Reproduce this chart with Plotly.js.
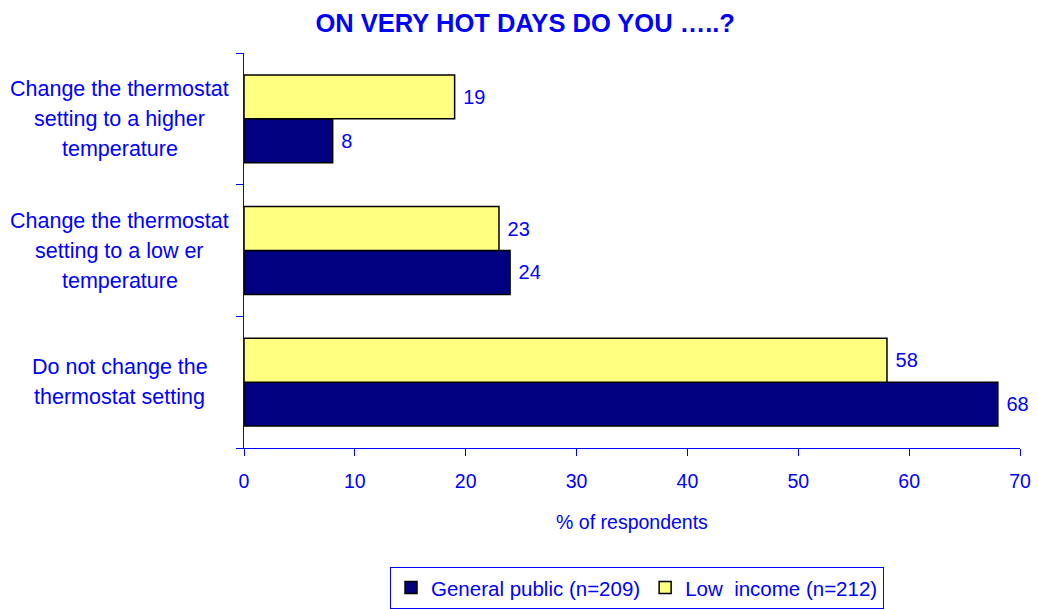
<!DOCTYPE html>
<html>
<head>
<meta charset="utf-8">
<script src="https://cdn.plot.ly/plotly-3.0.1.min.js"></script>
<style>html,body{margin:0;padding:0;background:#fff;}#chart{width:1038px;height:609px;}</style>
</head>
<body>
<div id="chart"></div>
<script>
// Categories listed bottom-to-top
const categories = [
  "Do not change the<br>thermostat setting",
  "Change the thermostat<br>setting to a low er<br>temperature",
  "Change the thermostat<br>setting to a higher<br>temperature"
];
const generalPublic = [68, 24, 8];
const lowIncome = [58, 23, 19];
const seriesNames = ["General public (n=209)", "Low\u00A0\u00A0income (n=212)"];
const xTicks = [0, 10, 20, 30, 40, 50, 60, 70];

const BLUE = "#0000FF";
const FONT = "'Liberation Sans', Arial, sans-serif";

const traces = [
  {
    type: "bar", orientation: "h", name: seriesNames[0],
    y: categories, x: generalPublic,
    marker: {color: "#000080", line: {color: "#000000", width: 1.5}},
    texttemplate: "\u00A0%{x}",
    textposition: "outside", cliponaxis: false,
    textfont: {color: BLUE, size: 20, family: FONT},
    hoverinfo: "x+name"
  },
  {
    type: "bar", orientation: "h", name: seriesNames[1],
    y: categories, x: lowIncome,
    marker: {color: "#FFFF80", line: {color: "#000000", width: 1.5}},
    texttemplate: "\u00A0%{x}",
    textposition: "outside", cliponaxis: false,
    textfont: {color: BLUE, size: 20, family: FONT},
    hoverinfo: "x+name"
  }
];

// Category labels: one annotation per text line, centred, to match the line spacing
const LINE_GAP = 30;
const annotations = [];
categories.forEach(c => {
  const lines = c.split("<br>");
  const n = lines.length;
  lines.forEach((ln, i) => {
    annotations.push({
      xref: "paper", yref: "y", x: -0.16, y: c, text: ln,
      yshift: ((n - 1) / 2 - i) * LINE_GAP,
      showarrow: false, xanchor: "center", yanchor: "middle", align: "center",
      font: {color: BLUE, size: 21.5, family: FONT}
    });
  });
});

const layout = {
  width: 1038, height: 609,
  margin: {l: 244, r: 18, t: 53, b: 161, autoexpand: false},
  paper_bgcolor: "#ffffff", plot_bgcolor: "#ffffff",
  font: {family: FONT, color: BLUE, size: 19},
  title: {
    text: "<b>ON VERY HOT DAYS DO YOU …..?</b>",
    x: 0.506, xref: "container", xanchor: "center",
    y: 0.962, yref: "container", yanchor: "middle",
    font: {family: FONT, size: 25.5, color: BLUE}
  },
  barmode: "group", bargap: 0.333, bargroupgap: 0,
  xaxis: {
    range: [0, 70], tickvals: xTicks, ticktext: xTicks.map(String),
    showgrid: false, zeroline: false,
    showline: true, linecolor: BLUE, linewidth: 1,
    ticks: "outside", ticklen: 7, tickcolor: BLUE, tickwidth: 1,
    ticklabelstandoff: 9,
    tickfont: {family: FONT, size: 19.5, color: BLUE},
    title: {text: "% of respondents", standoff: 23, font: {family: FONT, size: 19.5, color: BLUE}}
  },
  yaxis: {
    type: "category", categoryorder: "array", categoryarray: categories,
    showticklabels: false, tickson: "boundaries",
    showgrid: false, zeroline: false,
    showline: true, linecolor: BLUE, linewidth: 1,
    ticks: "outside", ticklen: 7, tickcolor: BLUE, tickwidth: 1
  },
  showlegend: true,
  legend: {
    orientation: "h", x: 0.6137, xref: "container", xanchor: "center",
    y: 0.035, yref: "container", yanchor: "middle",
    bordercolor: BLUE, borderwidth: 1, bgcolor: "#ffffff",
    font: {family: FONT, size: 20.5, color: BLUE},
    traceorder: "normal"
  },
  annotations: annotations
};

Plotly.newPlot("chart", traces, layout, {displayModeBar: false, staticPlot: true});
</script>
</body>
</html>
